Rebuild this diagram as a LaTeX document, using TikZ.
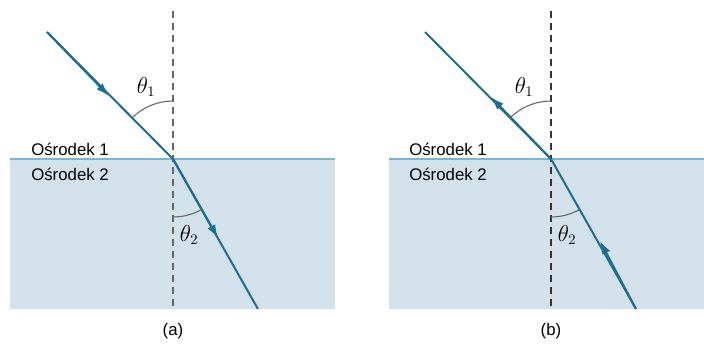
\documentclass[tikz,border=0pt]{standalone}
\usepackage{fontspec}
\setmainfont{Liberation Sans}
\usetikzlibrary{arrows.meta}
\definecolor{raycol}{HTML}{1D6E8E}
\definecolor{medcol}{HTML}{D3E1EA}
\definecolor{ifacecol}{HTML}{7FB3CE}
\begin{document}
\begin{tikzpicture}[x=0.75pt,y=-0.75pt,font=\fontsize{12.6}{14}\selectfont]
\tikzset{
  raypath/.style={draw=raycol,line width=1.5pt},
  raytip/.style={draw=raycol,line width=1.5pt,-{Latex[length=10pt,width=6.5pt]}},
  normalline/.style={draw=black!60,dash pattern=on 5.5pt off 3.5pt,line width=0.8pt},
  anglearc/.style={draw=black!60,line width=0.8pt},
  iface/.style={draw=ifacecol,line width=0.8pt},
  medlabel/.style={anchor=base west,inner sep=0pt},
  anglab/.style={inner sep=0pt,font=\fontsize{16}{18}\selectfont}
}
\useasboundingbox (0,0) rectangle (704,344);
% ---------- panel (a) ----------
\fill[medcol] (10,159) rectangle (335,309);
\coordinate (IFaL) at (10,159);
\coordinate (IFaR) at (335,159);
\draw[iface] (IFaL) -- (IFaR);
\coordinate (Oa) at (173,159);
\coordinate (Na) at (173,11);
\coordinate (Sa) at (173,309);
\draw[normalline] (Na) -- (Sa);
\coordinate (Ia) at (47,32);
\coordinate (Ma) at (109,96);
\coordinate (Ta) at (218,238);
\coordinate (Ra) at (258,309);
\draw[raypath,line join=round] (Ia) -- (Oa) -- (Ra);
\draw[raytip] (Ia) -- (Ma);
\draw[raytip] (Oa) -- (Ta);
\draw[anglearc] (Oa) ++(270:58) arc[start angle=270,end angle=225,radius=58];
\draw[anglearc] (Oa) ++(90:58) arc[start angle=90,end angle=60.3,radius=58];
\node[anglab] (t1a) at (146,87) {$\theta_1$};
\node[anglab] (t2a) at (189,235) {$\theta_2$};
\node[medlabel] (m1a) at (31,155) {Ośrodek 1};
\node[medlabel] (m2a) at (31,180) {Ośrodek 2};
\node (capa) at (173,331) {(a)};
% ---------- panel (b) ----------
\fill[medcol] (389,159) rectangle (704,309);
\coordinate (IFbL) at (389,159);
\coordinate (IFbR) at (704,159);
\draw[iface] (IFbL) -- (IFbR);
\coordinate (Ob) at (551,159);
\coordinate (Nb) at (551,11);
\coordinate (Sb) at (551,309);
\draw[normalline,draw=black!80] (Nb) -- (Sb);
\coordinate (Ib) at (425,32);
\coordinate (Mb) at (491,97);
\coordinate (Tb) at (600,241);
\coordinate (Rb) at (636,309);
\draw[raypath,line join=round] (Ib) -- (Ob) -- (Rb);
\draw[raytip] (Ob) -- (Mb);
\draw[raytip] (Rb) -- (Tb);
\draw[anglearc] (Ob) ++(270:58) arc[start angle=270,end angle=225,radius=58];
\draw[anglearc] (Ob) ++(90:58) arc[start angle=90,end angle=60.3,radius=58];
\node[anglab] (t1b) at (524,87) {$\theta_1$};
\node[anglab] (t2b) at (567,235) {$\theta_2$};
\node[medlabel] (m1b) at (409,155) {Ośrodek 1};
\node[medlabel] (m2b) at (409,180) {Ośrodek 2};
\node (capb) at (551,331) {(b)};
\end{tikzpicture}
\end{document}
